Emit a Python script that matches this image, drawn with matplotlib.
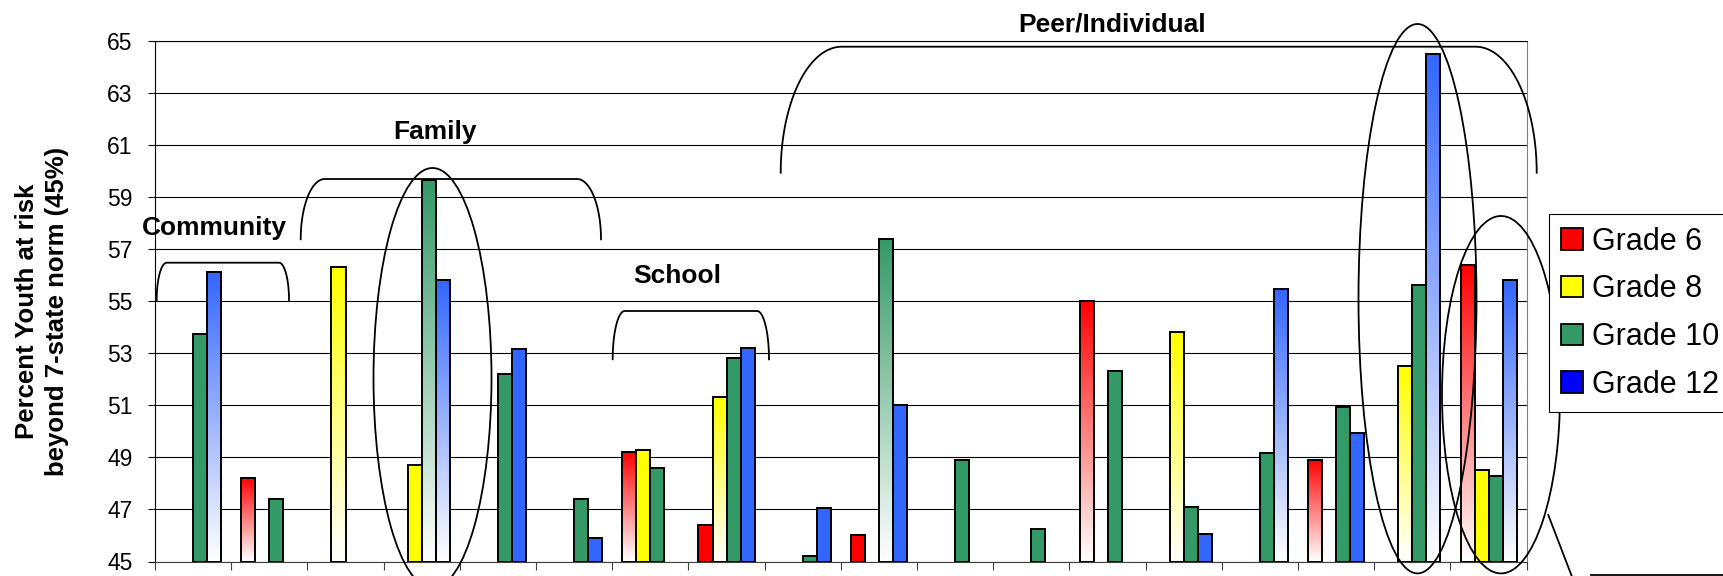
import matplotlib
matplotlib.use("Agg")
import matplotlib.pyplot as plt
import numpy as np
from matplotlib.patches import Ellipse, Patch
from matplotlib.lines import Line2D

plt.rcParams['font.family'] = ['Liberation Sans', 'DejaVu Sans']

nan = np.nan
# 18 risk factors (blank = below 45)
grade6 = [nan, 48.2, nan, nan, nan, nan, 49.2, 46.4, nan, 46.0, nan, nan, 55.0, nan, nan, 48.9, nan, 56.4]
grade8 = [nan, nan, 56.3, 48.7, nan, nan, 49.3, 51.3, nan, nan, nan, nan, nan, 53.8, nan, nan, 52.5, 48.5]
grade10 = [53.75, 47.4, nan, 59.65, 52.2, 47.4, 48.6, 52.8, 45.2, 57.4, 48.9, 46.25, 52.3, 47.1, 49.15, 50.95, 55.6, 48.3]
grade12 = [56.1, nan, nan, 55.8, 53.15, 45.9, nan, 53.2, 47.05, 51.0, nan, nan, nan, 46.05, 55.45, 49.95, 64.5, 55.8]
labels = ["Grade 6", "Grade 8", "Grade 10", "Grade 12"]

# which bars are drawn with the colour -> white fade
faded = [
    [1, 6, 12, 15, 17],
    [2, 7, 13, 16],
    [3, 9],
    [0, 3, 14, 16, 17],
]

series = [grade6, grade8, grade10, grade12]
bar_colors = ['#FF0000', '#FFFF00', '#339966', '#3366FF']
key_colors = ['#FF0000', '#FFFF00', '#339966', '#0000FF']

W, H = 1723, 576
fig = plt.figure(figsize=(W / 100, H / 100), dpi=100)
ax = fig.add_axes([155 / W, 1 - 561.5 / H, (1526.7 - 155) / W, (561.5 - 40.7) / H])

x = np.arange(len(grade10))
width = 0.184
base = 45

for k, vals in enumerate(series):
    for i, v in enumerate(vals):
        if np.isnan(v):
            continue
        xc = x[i] + (k - 1.5) * width
        if i in faded[k]:
            c = np.array(matplotlib.colors.to_rgb(bar_colors[k]))
            t = np.linspace(0, 1, 256)[:, None, None]
            img = (1 - t) * np.ones(3) + t * c
            ax.imshow(img, extent=(xc - width / 2, xc + width / 2, base, v),
                      origin='lower', aspect='auto', zorder=2, interpolation='bilinear')
            ax.bar(xc, v - base, bottom=base, width=width, facecolor='none',
                   edgecolor='black', linewidth=1.4, zorder=3)
        else:
            ax.bar(xc, v - base, bottom=base, width=width, color=bar_colors[k],
                   edgecolor='black', linewidth=1.4, zorder=3)

ax.set_xlim(-0.5, len(grade10) - 0.5)
ax.set_ylim(45, 65)
ax.set_yticks(np.arange(45, 66, 2))
ax.set_xticks(np.arange(-0.5, len(grade10), 1))
ax.set_xticklabels([])
ax.tick_params(axis='y', labelsize=16.5, length=5, width=0.8, pad=11)
ax.tick_params(axis='x', length=5.5, width=0.8, color='#404040')
ax.yaxis.grid(True, color='black', linewidth=0.8)
ax.set_axisbelow(True)
ax.spines['left'].set_linewidth(0.8)
ax.spines['bottom'].set_color('#404040')
ax.spines['right'].set_color('#808080')
ax.spines['top'].set_linewidth(0.8)

fig.text(42 / W, 1 - 311 / H, "Percent Youth at risk\nbeyond 7-state norm (45%)",
         rotation=90, ha='center', va='center', ma='center', fontsize=18.5,
         fontweight='bold', linespacing=1.35)


def bracket(x0, x1, yt, yb, rx):
    t = np.linspace(0, np.pi / 2, 40)
    ry = yb - yt
    lx = x0 + rx - rx * np.cos(t)
    ly = yb - ry * np.sin(t)
    rt = t[::-1]
    rxs = x1 - rx + rx * np.cos(rt)
    rys = yb - ry * np.sin(rt)
    xs = np.concatenate([lx, rxs])
    ys = np.concatenate([ly, rys])
    fig.add_artist(Line2D(xs / W, 1 - ys / H, color='black', linewidth=1.3))


bracket(156.7, 289, 262.7, 300, 10)
bracket(300.7, 601, 179, 239.3, 24)
bracket(612.7, 769, 311, 359.3, 12)
bracket(780.7, 1536.7, 46.7, 172.7, 61)

for txt, px, py in [("Community", 214, 235), ("Family", 435, 139.3),
                    ("School", 677, 282.7), ("Peer/Individual", 1112, 31)]:
    fig.text(px / W, 1 - py / H, txt, ha='center', va='baseline',
             fontsize=19, fontweight='bold')

for cx, cy, a, b in [(432.5, 378, 59, 210), (1417.5, 298.7, 59, 274.7),
                     (1501, 394.7, 59, 178.7)]:
    fig.add_artist(Ellipse((cx / W, 1 - cy / H), 2 * a / W, 2 * b / H,
                           transform=fig.transFigure, fill=False,
                           edgecolor='black', linewidth=1.3))

fig.add_artist(Line2D([1548.3 / W, 1571.7 / W], [1 - 515 / H, 1 - 576 / H],
                      color='black', linewidth=1.3))
fig.add_artist(Line2D([1591 / W, 1 + 0.01], [1 - 575 / H, 1 - 575 / H],
                      color='black', linewidth=1.3))

handles = [Patch(facecolor=c, edgecolor='black', linewidth=1.3) for c in key_colors]
leg = fig.legend(handles, labels, loc='upper left', bbox_to_anchor=(1549 / W, 1 - 214.3 / H),
                 fontsize=22, frameon=True, fancybox=False, framealpha=1,
                 edgecolor='black', borderaxespad=0, borderpad=0.4,
                 handlelength=0.7, handleheight=0.7, handletextpad=0.3,
                 labelspacing=0.58)
leg.get_frame().set_linewidth(0.8)

plt.savefig("out.png", dpi=100)
